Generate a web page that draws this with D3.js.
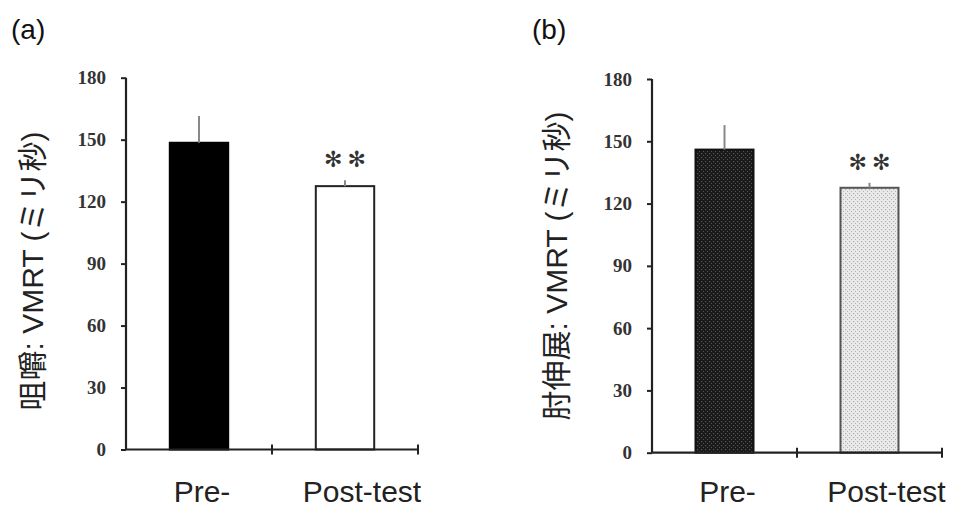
<!DOCTYPE html>
<html>
<head>
<meta charset="utf-8">
<script src="https://cdn.jsdelivr.net/npm/d3@7"></script>
<style>
  html, body { margin: 0; padding: 0; background: #fff; }
  svg { display: block; }
</style>
</head>
<body>
<svg id="chart" width="959" height="511"></svg>
<script>
// ---- data ----
const panelTitles = ["(a)", "(b)"];
const categories = ["Pre-", "Post-test"];
const meansA = [148.5, 127.5];
const errorsA = [13.0, 2.9];
const meansB = [146.0, 127.6];
const errorsB = [11.8, 2.4];
const yTicks = [0, 30, 60, 90, 120, 150, 180];
const yTitles = ["咀嚼: VMRT (ミリ秒)", "肘伸展: VMRT (ミリ秒)"];
const significance = ["", "✻✻"];

// ---- layout ----
const svg = d3.select("#chart");
const defs = svg.append("defs");

function dotPattern(id, bg, dot) {
  const p = defs.append("pattern").attr("id", id).attr("patternUnits", "userSpaceOnUse")
    .attr("width", 4).attr("height", 4);
  p.append("rect").attr("width", 4).attr("height", 4).attr("fill", bg);
  p.append("rect").attr("x", 1).attr("y", 1).attr("width", 1.2).attr("height", 1.2).attr("fill", dot);
  p.append("rect").attr("x", 3).attr("y", 3).attr("width", 1.2).attr("height", 1.2).attr("fill", dot);
}
dotPattern("darkDots", "#1a1a1a", "#555");
dotPattern("lightDots", "#eaeaea", "#b0b0b0");

const panels = [
  { title: panelTitles[0], means: meansA, errors: errorsA, yTitle: yTitles[0],
    x0: 126, x1: 418, yTop: 77.7, yBot: 449.5, titleX: 11, yTitleX: 43, yTitleY: 271,
    fills: ["#000", "#fff"], strokes: ["#000", "#222"] },
  { title: panelTitles[1], means: meansB, errors: errorsB, yTitle: yTitles[1],
    x0: 652, x1: 942, yTop: 79, yBot: 452.7, titleX: 532, yTitleX: 567, yTitleY: 266,
    fills: ["url(#darkDots)", "url(#lightDots)"], strokes: ["#111", "#555"] }
];
const labelShift = [3, 17];
const latin = "'Liberation Sans', Arial, 'Noto Sans CJK JP', sans-serif";

panels.forEach(p => {
  const g = svg.append("g");
  const y = d3.scaleLinear().domain([0, 180]).range([p.yBot, p.yTop]);
  const x = d3.scaleBand().domain(categories).range([p.x0, p.x1])
    .paddingInner(0.6).paddingOuter(0.3);

  // panel title
  g.append("text").attr("x", p.titleX).attr("y", 39)
    .attr("font-family", latin).attr("font-size", 28).attr("fill", "#111")
    .text(p.title);

  // y axis
  const yAxis = g.append("g").attr("transform", `translate(${p.x0},0)`)
    .call(d3.axisLeft(y).tickValues(yTicks).tickSize(5).tickPadding(15));
  yAxis.attr("font-size", null).attr("font-family", null);
  yAxis.select(".domain").attr("stroke", "#222").attr("stroke-width", 2.2)
    .attr("d", `M0,${p.yTop}V${p.yBot}`);
  yAxis.selectAll(".tick line").attr("stroke", "#222").attr("stroke-width", 2);
  yAxis.selectAll(".tick text")
    .style("font-family", "'Liberation Serif', 'Times New Roman', serif")
    .style("font-weight", "bold").style("font-size", "19px").attr("fill", "#333");

  // bars
  g.selectAll("rect.bar").data(categories).join("rect").attr("class", "bar")
    .attr("x", d => x(d)).attr("width", x.bandwidth())
    .attr("y", (d, i) => y(p.means[i]))
    .attr("height", (d, i) => y(0) - y(p.means[i]))
    .attr("fill", (d, i) => p.fills[i])
    .attr("stroke", (d, i) => p.strokes[i]).attr("stroke-width", 2);

  // error bars (upper only)
  g.selectAll("line.err").data(categories).join("line").attr("class", "err")
    .attr("x1", d => x(d) + x.bandwidth() / 2).attr("x2", d => x(d) + x.bandwidth() / 2)
    .attr("y1", (d, i) => y(p.means[i]))
    .attr("y2", (d, i) => y(p.means[i] + p.errors[i]))
    .attr("stroke", "#888").attr("stroke-width", 2);

  // significance marks
  g.selectAll("text.sig").data(categories).join("text").attr("class", "sig")
    .attr("x", d => x(d) + x.bandwidth() / 2)
    .attr("dx", 2.5)
    .attr("y", (d, i) => y(p.means[i] + p.errors[i]) - 13)
    .attr("text-anchor", "middle")
    .attr("letter-spacing", 5)
    .style("font-family", "'DejaVu Sans', sans-serif").style("font-size", "22px")
    .attr("fill", "#333")
    .text((d, i) => significance[i]);

  // x axis (baseline with ticks at band boundaries)
  g.append("line").attr("x1", p.x0).attr("x2", p.x1).attr("y1", y(0)).attr("y2", y(0))
    .attr("stroke", "#222").attr("stroke-width", 2.2);
  const boundaries = [p.x0 + x.step(), p.x1];
  g.selectAll("line.xt").data(boundaries).join("line").attr("class", "xt")
    .attr("x1", d => d).attr("x2", d => d)
    .attr("y1", y(0) - 5).attr("y2", y(0) + 5)
    .attr("stroke", "#222").attr("stroke-width", 2);

  // category labels
  g.selectAll("text.cat").data(categories).join("text").attr("class", "cat")
    .attr("x", (d, i) => x(d) + x.bandwidth() / 2 + labelShift[i])
    .attr("y", 502)
    .attr("text-anchor", "middle")
    .attr("font-family", latin).attr("font-size", 30).attr("fill", "#222")
    .text(d => d);

  // y title
  g.append("text")
    .attr("transform", `translate(${p.yTitleX},${p.yTitleY}) rotate(-90)`)
    .attr("text-anchor", "middle")
    .attr("font-family", latin).attr("font-size", 30).attr("fill", "#222")
    .text(p.yTitle);
});
</script>
</body>
</html>
